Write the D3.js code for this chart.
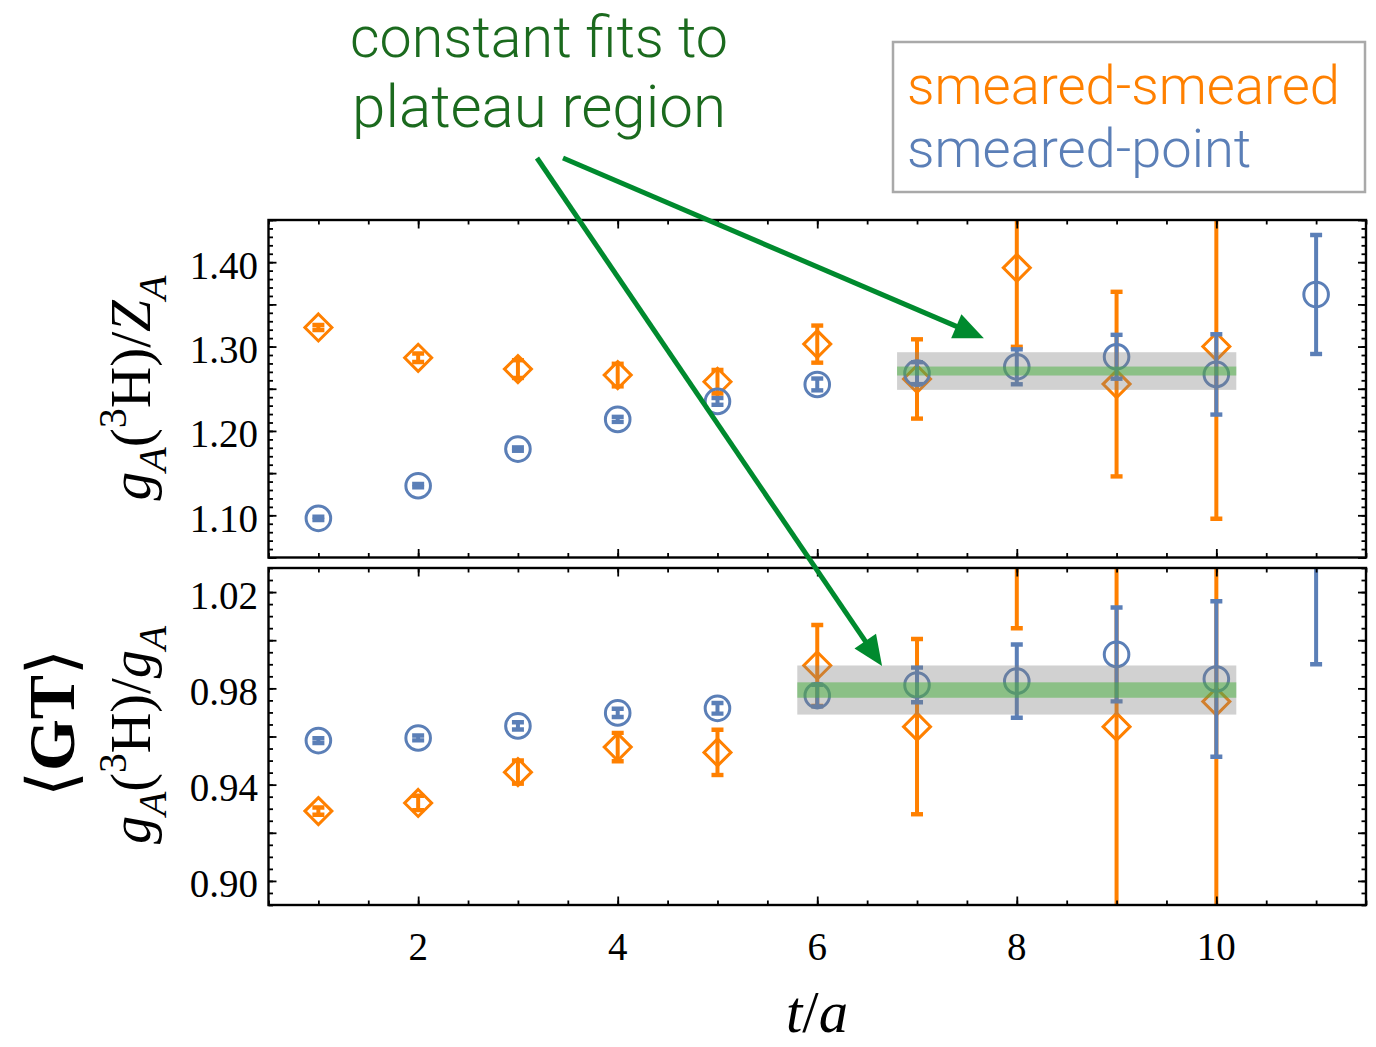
<!DOCTYPE html>
<html><head><meta charset="utf-8">
<script src="https://cdn.jsdelivr.net/npm/d3@7"></script>
<style>body{margin:0;background:#fff} svg{display:block}</style>
</head><body><svg id="c" width="1376" height="1047"></svg>
<script>
// ---------- data ----------
const tSS = [1,2,3,4,5,6,7,8,9,10];
const tSP = [1,2,3,4,5,6,7,8,9,10,11];
// top panel: gA(3H)/ZA
const ssTop    = [1.3226,1.2867,1.2733,1.2662,1.2583,1.3029,1.2616,1.3933,1.2555,1.3000];
const ssTopErr = [0.003,0.005,0.0105,0.0134,0.014,0.022,0.047,0.0936,0.1094,0.204];
const spTop    = [1.0964,1.1351,1.1785,1.2137,1.2350,1.2551,1.2685,1.2760,1.2879,1.2670,1.3617];
const spTopErr = [0.002,0.002,0.002,0.003,0.004,0.007,0.013,0.0207,0.026,0.0476,0.0705];
// bottom panel: gA(3H)/gA
const ssBot    = [0.9290,0.9324,0.9452,0.9556,0.9534,0.9895,0.9641,1.065,0.9641,0.9745];
const ssBotErr = [0.0015,0.003,0.0048,0.0059,0.0094,0.0168,0.0364,0.06,0.09,0.15];
const spBot    = [0.9583,0.9594,0.9644,0.9698,0.9717,0.9770,0.9814,0.9830,0.9941,0.9839,1.06];
const spBotErr = [0.001,0.001,0.0015,0.0017,0.0022,0.0045,0.0072,0.0152,0.0195,0.0323,0.07];
// constant fits (plateau)
const fitRange = [[6.8,10.2],[5.8,10.2]];
const fitMean  = [1.2710,0.9793];
const fitOuter = [0.0223,0.0102];
const fitInner = [0.0053,0.0032];
// ticks
const xTickLabels = [2,4,6,8,10];
const topTickVals = [1.10,1.20,1.30,1.40];
const topTickLabels = ["1.10","1.20","1.30","1.40"];
const botTickVals = [0.90,0.94,0.98,1.02];
const botTickLabels = ["0.90","0.94","0.98","1.02"];
const legendLabels = ["smeared-smeared","smeared-point"];
const titleLines = ["constant fits to","plateau region"];
// arrow tips in data coordinates [x, y] for top / bottom panels
const arrowTips = [[7.67,1.310],[6.65,0.9893]];

// ---------- styles ----------
const ORANGE = "#ff8000", BLUE = "#5b7fb7", GREEN = "#008a2e", TGREEN = "#1b6a1e";
const svg = d3.select("#c");
const x = d3.scaleLinear().domain([0.5,11.5]).range([268.5,1366]);
const yTop = d3.scaleLinear().domain([1.05,1.45]).range([557.5,220]);
const yBot = d3.scaleLinear().domain([0.89,1.03]).range([905,568]);

const panels = [
  {y:yTop, ss:ssTop, ssE:ssTopErr, sp:spTop, spE:spTopErr,
   minorY:d3.range(105,146).map(d=>d/100), majorY:d3.range(21,30).map(d=>d*0.05),
   tv:topTickVals, tl:topTickLabels},
  {y:yBot, ss:ssBot, ssE:ssBotErr, sp:spBot, spE:spBotErr,
   minorY:d3.range(178,207).map(d=>d/200), majorY:d3.range(45,52).map(d=>d/50),
   tv:botTickVals, tl:botTickLabels}
];
const xMinor = d3.range(1,24).map(d=>d*0.5);
const xMajor = [2,4,6,8,10];

panels.forEach((p,i)=>{
  const y = p.y;
  const [y0,y1] = y.range();
  const g = svg.append("g");
  const clipId = "clip"+i;
  svg.append("defs").append("clipPath").attr("id",clipId)
    .append("rect").attr("x",x.range()[0]).attr("y",y1).attr("width",x.range()[1]-x.range()[0]).attr("height",y0-y1);
  const dg = g.append("g").attr("clip-path",`url(#${clipId})`);

  function series(ts, vals, errs, color, shape){
    const s = dg.append("g");
    ts.forEach((t,k)=>{
      const cx = x(t), cy = y(vals[k]), ya = y(vals[k]+errs[k]), yb = y(vals[k]-errs[k]);
      s.append("line").attr("x1",cx).attr("x2",cx).attr("y1",ya).attr("y2",yb)
        .attr("stroke",color).attr("stroke-width",4);
      [ya,yb].forEach(yy=>s.append("line").attr("x1",cx-6).attr("x2",cx+6).attr("y1",yy).attr("y2",yy)
        .attr("stroke",color).attr("stroke-width",4.4));
      if(shape==="diamond"){
        const r=13.5;
        s.append("path").attr("d",`M${cx},${cy-r}L${cx+r},${cy}L${cx},${cy+r}L${cx-r},${cy}Z`)
          .attr("fill","none").attr("stroke",color).attr("stroke-width",3);
      } else {
        s.append("circle").attr("cx",cx).attr("cy",cy).attr("r",12.3)
          .attr("fill","none").attr("stroke",color).attr("stroke-width",3);
      }
    });
  }
  series(tSS, p.ss, p.ssE, ORANGE, "diamond");
  series(tSP, p.sp, p.spE, BLUE, "circle");

  const fx0 = x(fitRange[i][0]), fx1 = x(fitRange[i][1]);
  dg.append("rect").attr("x",fx0).attr("width",fx1-fx0)
    .attr("y",y(fitMean[i]+fitOuter[i])).attr("height",y(fitMean[i]-fitOuter[i])-y(fitMean[i]+fitOuter[i]))
    .attr("fill","rgba(128,128,128,0.36)");
  dg.append("rect").attr("x",fx0).attr("width",fx1-fx0)
    .attr("y",y(fitMean[i]+fitInner[i])).attr("height",y(fitMean[i]-fitInner[i])-y(fitMean[i]+fitInner[i]))
    .attr("fill","rgba(70,175,60,0.5)");

  const ax = g.append("g");
  const add = (axis, tr)=>{ const a = ax.append("g").attr("transform",tr).call(axis);
    a.select(".domain").remove(); a.selectAll("text").remove();
    a.selectAll("line").attr("stroke","#000").attr("stroke-width",1.8); };
  add(d3.axisBottom(x).tickValues(xMinor).tickSize(-4.5), `translate(0,${y0})`);
  add(d3.axisBottom(x).tickValues(xMajor).tickSize(-8.5), `translate(0,${y0})`);
  add(d3.axisTop(x).tickValues(xMinor).tickSize(-4.5), `translate(0,${y1})`);
  add(d3.axisTop(x).tickValues(xMajor).tickSize(-8.5), `translate(0,${y1})`);
  add(d3.axisLeft(y).tickValues(p.minorY).tickSize(-4.5), `translate(${x.range()[0]},0)`);
  add(d3.axisLeft(y).tickValues(p.majorY).tickSize(-8), `translate(${x.range()[0]},0)`);
  add(d3.axisRight(y).tickValues(p.minorY).tickSize(-4.5), `translate(${x.range()[1]},0)`);
  add(d3.axisRight(y).tickValues(p.majorY).tickSize(-8), `translate(${x.range()[1]},0)`);

  g.append("rect").attr("x",x.range()[0]).attr("y",y1).attr("width",x.range()[1]-x.range()[0]).attr("height",y0-y1)
    .attr("fill","none").attr("stroke","#000").attr("stroke-width",2.4);

  p.tv.forEach((v,k)=>{
    g.append("text").attr("x",258).attr("y",y(v)+3).attr("text-anchor","end")
      .attr("dominant-baseline","central")
      .style("font-family","'Liberation Serif','DejaVu Serif',serif").style("font-size","39px")
      .text(p.tl[k]);
  });
});

xTickLabels.forEach(v=>{
  svg.append("text").attr("x",x(v)).attr("y",960).attr("text-anchor","middle")
    .style("font-family","'Liberation Serif','DejaVu Serif',serif").style("font-size","39px").text(v);
});

function fitScale(node, target){ const w = node.getComputedTextLength(); return target/w; }

function mathText(parent, parts, fs){
  const t = parent.append("text").attr("text-anchor","middle")
    .style("font-family","'Liberation Serif','DejaVu Serif',serif").style("font-size",fs+"px");
  let shift = 0;
  parts.forEach(pt=>{
    const ts = t.append("tspan").text(pt.t);
    if(pt.it) ts.style("font-style","italic");
    let target = 0, size = fs;
    if(pt.sub){ target = 0.28*fs; size = 0.7*fs; }
    if(pt.sup){ target = -0.42*fs; size = 0.7*fs; }
    ts.style("font-size",size+"px").attr("dy", target - shift);
    shift = target;
  });
  return t;
}
const labTop = svg.append("g");
const lt = mathText(labTop,[{t:"g",it:1},{t:"A",it:1,sub:1},{t:"("},{t:"3",sup:1},{t:"H)/"},{t:"Z",it:1},{t:"A",it:1,sub:1}],40);
labTop.attr("transform",`translate(150,388) rotate(-90) scale(${fitScale(lt.node(),225)})`);
const labBot = svg.append("g");
const lb = mathText(labBot,[{t:"g",it:1},{t:"A",it:1,sub:1},{t:"("},{t:"3",sup:1},{t:"H)/"},{t:"g",it:1},{t:"A",it:1,sub:1}],40);
labBot.attr("transform",`translate(150,735) rotate(-90) scale(${fitScale(lb.node(),218)})`);
const labGT = svg.append("g");
const lg = labGT.append("text").attr("text-anchor","middle")
  .style("font-family","'Liberation Serif','DejaVu Serif',serif").style("font-size","70px");
lg.append("tspan").style("font-family","'DejaVu Serif',serif").style("font-weight","200").text("\u27E8");
lg.append("tspan").style("font-weight","bold").text("GT");
lg.append("tspan").style("font-family","'DejaVu Serif',serif").style("font-weight","200").text("\u27E9");
labGT.attr("transform",`translate(74,723) rotate(-90) scale(${fitScale(lg.node(),148)})`);

const labX = svg.append("g");
const lx = mathText(labX,[{t:"t",it:1},{t:"/"},{t:"a",it:1}],40);
labX.attr("transform",`translate(817,1032) scale(${fitScale(lx.node(),62)})`);

const SANS = "Roboto, 'Open Sans', 'Liberation Sans', sans-serif";
const tl1 = svg.append("text").attr("x",539).attr("y",57).attr("text-anchor","middle")
  .style("font-family",SANS).style("font-weight","300").style("font-size","54px").attr("fill",TGREEN).text(titleLines[0]);
tl1.style("font-size",(54*fitScale(tl1.node(),378))+"px");
const tl2 = svg.append("text").attr("x",539).attr("y",127).attr("text-anchor","middle")
  .style("font-family",SANS).style("font-weight","300").style("font-size","54px").attr("fill",TGREEN).text(titleLines[1]);
tl2.style("font-size",(54*fitScale(tl2.node(),374))+"px");

svg.append("rect").attr("x",893).attr("y",42).attr("width",472).attr("height",150)
  .attr("fill","#fff").attr("stroke","#a9a9a9").attr("stroke-width",2.5);
const lg1 = svg.append("text").attr("x",907).attr("y",104)
  .style("font-family",SANS).style("font-weight","300").style("font-size","50px").attr("fill",ORANGE).text(legendLabels[0]);
const s2 = fitScale(lg1.node(),433);
lg1.style("font-size",(50*s2)+"px");
svg.append("text").attr("x",907).attr("y",167)
  .style("font-family",SANS).style("font-weight","300").style("font-size",(50*s2)+"px").attr("fill",BLUE).text(legendLabels[1]);

const starts = [[563,158],[537,158]];
const tips = [[x(arrowTips[0][0]),yTop(arrowTips[0][1])],[x(arrowTips[1][0]),yBot(arrowTips[1][1])]];
starts.forEach((s,i)=>{
  const [tx,ty] = tips[i];
  const dx = tx-s[0], dy = ty-s[1], L = Math.hypot(dx,dy), ux = dx/L, uy = dy/L;
  const hl = 30, hw = 13;
  const bx = tx-ux*hl, by = ty-uy*hl;
  svg.append("line").attr("x1",s[0]).attr("y1",s[1]).attr("x2",bx+ux*4).attr("y2",by+uy*4)
    .attr("stroke",GREEN).attr("stroke-width",5);
  svg.append("path").attr("d",`M${tx},${ty}L${bx-uy*hw},${by+ux*hw}L${bx+uy*hw},${by-ux*hw}Z`).attr("fill",GREEN);
});
</script></body></html>
